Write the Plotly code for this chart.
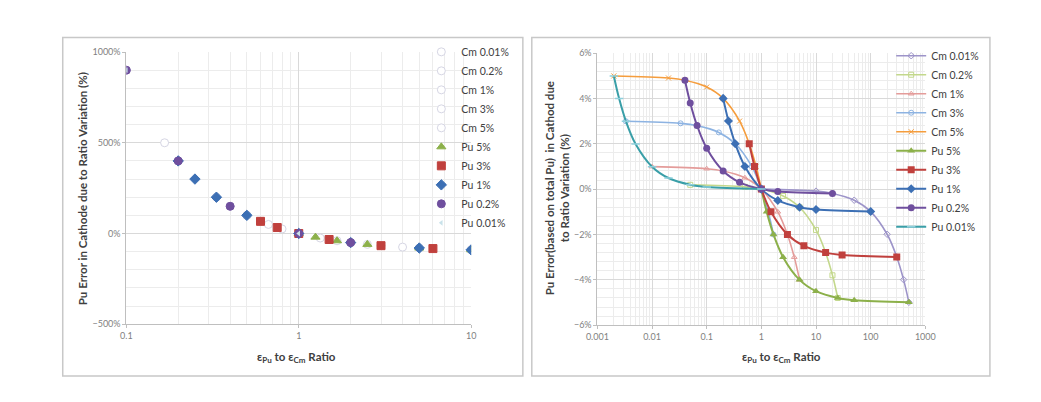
import plotly.graph_objects as go

W, H = 1041, 402

SERIES = ["Cm 0.01%", "Cm 0.2%", "Cm 1%", "Cm 3%", "Cm 5%",
          "Pu 5%", "Pu 3%", "Pu 1%", "Pu 0.2%", "Pu 0.01%"]

# left chart: Pu error in cathode (%), vs efficiency ratio
L_X = {
    "Cm 0.01%": [1, 10],
    "Cm 0.2%": [0.5, 1, 2.5, 5, 10],
    "Cm 1%": [0.1, 0.2, 0.5, 1, 2, 3, 4, 5],
    "Cm 3%": [0.1667, 0.333, 0.667, 1, 1.333, 1.667],
    "Cm 5%": [0.2, 0.4, 0.6, 0.8, 1],
    "Pu 5%": [1, 1.25, 1.667, 2.5, 5, 10],
    "Pu 3%": [0.6, 0.75, 1, 1.5, 3, 6],
    "Pu 1%": [0.2, 0.25, 0.333, 0.5, 1, 2, 5, 10],
    "Pu 0.2%": [0.1, 0.2, 0.4, 1, 2],
    "Pu 0.01%": [0.1, 1],
}
L_Y = {
    "Cm 0.01%": [0, -90],
    "Cm 0.2%": [100, 0, -60, -80, -90],
    "Cm 1%": [900, 400, 100, 0, -50, -67, -75, -80],
    "Cm 3%": [500, 200, 50, 0, -25, -40],
    "Cm 5%": [400, 150, 67, 25, 0],
    "Pu 5%": [0, -20, -40, -60, -80, -90],
    "Pu 3%": [67, 33, 0, -33, -67, -83],
    "Pu 1%": [400, 300, 200, 100, 0, -50, -80, -90],
    "Pu 0.2%": [900, 400, 150, 0, -50],
    "Pu 0.01%": [900, 0],
}

# right chart: Pu error based on total Pu (%)
R_X = {
    "Cm 0.01%": [1, 10, 20, 50, 100, 200, 300, 400, 500],
    "Cm 0.2%": [0.05, 0.5, 1, 2.5, 5, 10, 15, 20, 25],
    "Cm 1%": [0.01, 0.1, 0.2, 0.5, 1, 2, 3, 4, 5],
    "Cm 3%": [0.00333, 0.0333, 0.0667, 0.1667, 0.333, 0.667, 1, 1.333, 1.667],
    "Cm 5%": [0.002, 0.02, 0.04, 0.1, 0.2, 0.4, 0.6, 0.8, 1],
    "Pu 5%": [1, 1.25, 1.667, 2.5, 5, 10, 25, 50, 500],
    "Pu 3%": [0.6, 0.75, 1, 1.5, 3, 6, 15, 30, 300],
    "Pu 1%": [0.2, 0.25, 0.333, 0.5, 1, 2, 5, 10, 100],
    "Pu 0.2%": [0.04, 0.05, 0.0667, 0.1, 0.2, 0.4, 1, 2, 20],
    "Pu 0.01%": [0.002, 0.0025, 0.00333, 0.005, 0.01, 0.02, 0.05, 0.1, 1],
}
R_Y = {
    "Cm 0.01%": [0, -0.09, -0.19, -0.49, -0.99, -1.99, -2.99, -3.99, -4.99],
    "Cm 0.2%": [0.19, 0.1, 0, -0.3, -0.8, -1.8, -2.8, -3.8, -4.8],
    "Cm 1%": [0.99, 0.9, 0.8, 0.5, 0, -1, -2, -3, -4],
    "Cm 3%": [2.99, 2.9, 2.8, 2.5, 2, 1, 0, -1, -2],
    "Cm 5%": [4.99, 4.9, 4.8, 4.5, 4, 3, 2, 1, 0],
    "Pu 5%": [0, -1, -2, -3, -4, -4.5, -4.8, -4.9, -4.99],
    "Pu 3%": [2, 1, 0, -1, -2, -2.5, -2.8, -2.9, -2.99],
    "Pu 1%": [4, 3, 2, 1, 0, -0.5, -0.8, -0.9, -0.99],
    "Pu 0.2%": [4.8, 3.8, 2.8, 1.8, 0.8, 0.3, 0, -0.1, -0.19],
    "Pu 0.01%": [4.99, 3.99, 2.99, 1.99, 0.99, 0.49, 0.19, 0.09, 0],
}

COLORS = {
    "Cm 0.01%": "#9d94c9", "Cm 0.2%": "#c3d88c", "Cm 1%": "#e49c9a",
    "Cm 3%": "#8db3e2", "Cm 5%": "#f59d3d",
    "Pu 5%": "#8cb04a", "Pu 3%": "#c0403d", "Pu 1%": "#3c6fb4",
    "Pu 0.2%": "#6f4f9e", "Pu 0.01%": "#3a9fa8",
}
L_SYMBOL = {"Pu 5%": "triangle-up", "Pu 3%": "square", "Pu 1%": "diamond",
            "Pu 0.2%": "circle", "Pu 0.01%": "triangle-left"}
R_SYMBOL = {"Cm 0.01%": "diamond-open", "Cm 0.2%": "square-open",
            "Cm 1%": "triangle-up-open", "Cm 3%": "circle-open",
            "Cm 5%": "x-thin-open",
            "Pu 5%": "triangle-up", "Pu 3%": "square", "Pu 1%": "diamond",
            "Pu 0.2%": "circle", "Pu 0.01%": "line-ew-open"}

FONT = "Lato, 'Open Sans', sans-serif"
GRID = "#d9d9d9"
MINOR = "#ececec"


# the page shows the figure a little shifted and shrunk; convert screen pixels
def px_x(p):
    return ((p - 16) / 0.985) / W


def px_y(p):
    return 1 - ((p - 8) / 0.997) / H


def log_minor(lo, hi):
    # 2..9 inside every decade from 10**lo to 10**hi
    return [m * 10 ** e for e in range(lo, hi) for m in range(2, 10)]


fig = go.Figure()

for name in SERIES:
    if name.startswith("Cm"):
        marker = dict(symbol="circle", size=8, color="white",
                      line=dict(color="#d6d6e4", width=1))
    elif name == "Pu 0.01%":
        marker = dict(symbol="triangle-left", size=5, color="#c9e2ea")
    else:
        marker = dict(symbol=L_SYMBOL[name], size=8, color=COLORS[name],
                      line=dict(color=COLORS[name], width=1))
    fig.add_trace(go.Scatter(
        x=L_X[name], y=[v / 100 for v in L_Y[name]], name=name, mode="markers",
        marker=marker, xaxis="x", yaxis="y", legend="legend"))

for name in SERIES:
    if name.startswith("Cm"):
        line = dict(color=COLORS[name], width=1.6, shape="spline")
        marker = dict(symbol=R_SYMBOL[name], size=5, color=COLORS[name],
                      line=dict(width=1))
    elif name == "Pu 0.01%":
        line = dict(color=COLORS[name], width=2, shape="spline")
        marker = dict(symbol="line-ew-open", size=6, color="#8fd0dc",
                      line=dict(width=1.5, color="#8fd0dc"))
    else:
        line = dict(color=COLORS[name], width=2, shape="spline")
        marker = dict(symbol=R_SYMBOL[name], size=7, color=COLORS[name])
    fig.add_trace(go.Scatter(
        x=R_X[name], y=[v / 100 for v in R_Y[name]], name=name,
        mode="lines+markers", line=line, marker=marker,
        xaxis="x2", yaxis="y2", legend="legend2"))

tickfont = dict(family=FONT, size=9, color="#7f7f7f")
common = dict(showgrid=True, gridcolor=GRID, gridwidth=1, showline=True,
              linecolor="#bfbfbf", zeroline=False, ticks="outside",
              ticklen=3, tickcolor="#bfbfbf", tickfont=tickfont)
legend_font = dict(family=FONT, size=10.5, color="#404040")

fig.update_layout(
    width=W, height=H, margin=dict(l=0, r=0, t=0, b=0),
    paper_bgcolor="white", plot_bgcolor="white",
    font=dict(family=FONT, color="#404040"),
    xaxis=dict(type="log", range=[-1, 1], domain=[px_x(123), px_x(470)],
               tickvals=[0.1, 1, 10], ticktext=["0.1", "1", "10"],
               minor=dict(tickvals=log_minor(-1, 1), showgrid=True,
                          gridcolor=MINOR, ticks=""),
               anchor="y", **common),
    yaxis=dict(range=[-5, 10], domain=[px_y(326), px_y(47)],
               tickvals=[-5, 0, 5, 10], tickformat=".0%",
               minor=dict(dtick=1, showgrid=True, gridcolor=MINOR, ticks=""),
               anchor="x", **common),
    xaxis2=dict(type="log", range=[-3, 3], domain=[px_x(597), px_x(927)],
                tickvals=[0.001, 0.01, 0.1, 1, 10, 100, 1000],
                ticktext=["0.001", "0.01", "0.1", "1", "10", "100", "1000"],
                minor=dict(tickvals=log_minor(-3, 3), showgrid=True,
                           gridcolor=MINOR, ticks=""),
                anchor="y2", **common),
    yaxis2=dict(range=[-0.06, 0.06], domain=[px_y(327), px_y(48)],
                dtick=0.02, tickformat=".0%",
                minor=dict(dtick=0.004, showgrid=True, gridcolor=MINOR, ticks=""),
                anchor="x2", **common),
    legend=dict(x=410 / W, y=1 - 24 / H, xanchor="left", yanchor="top",
                bgcolor="rgba(0,0,0,0)", font=legend_font,
                itemwidth=30, tracegroupgap=0),
    legend2=dict(x=890 / W, y=1 - 28 / H, xanchor="left", yanchor="top",
                 bgcolor="rgba(0,0,0,0)", font=legend_font,
                 itemwidth=30, tracegroupgap=0),
    shapes=[
        dict(type="rect", xref="paper", yref="paper", x0=px_x(59), x1=px_x(522),
             y0=px_y(379), y1=px_y(32), line=dict(color="#c8c8c8", width=1.5)),
        dict(type="rect", xref="paper", yref="paper", x0=px_x(531), x1=px_x(992),
             y0=px_y(379), y1=px_y(32), line=dict(color="#c8c8c8", width=1.5)),
    ],
)

title_font = dict(family=FONT, size=11.5, color="#404040")
xtitle = "<b>ε<sub>Pu</sub> to ε<sub>Cm</sub> Ratio</b>"
for cx in (294, 782):
    fig.add_annotation(x=px_x(cx), y=px_y(360), xref="paper", yref="paper",
                       xanchor="center", yanchor="middle",
                       text=xtitle, showarrow=False, font=title_font)
fig.add_annotation(x=px_x(79), y=px_y(187), xref="paper", yref="paper",
                   xanchor="center", yanchor="middle",
                   text="<b>Pu Error in Cathode due to Ratio Variation (%)</b>",
                   textangle=-90, showarrow=False, font=title_font)
fig.add_annotation(x=px_x(556), y=px_y(187), xref="paper", yref="paper",
                   xanchor="center", yanchor="middle",
                   text="<b>Pu Error(based on total Pu)  in Cathod due<br>to Ratio Variation (%)</b>",
                   textangle=-90, showarrow=False, font=title_font)

fig.write_html("out.html")
